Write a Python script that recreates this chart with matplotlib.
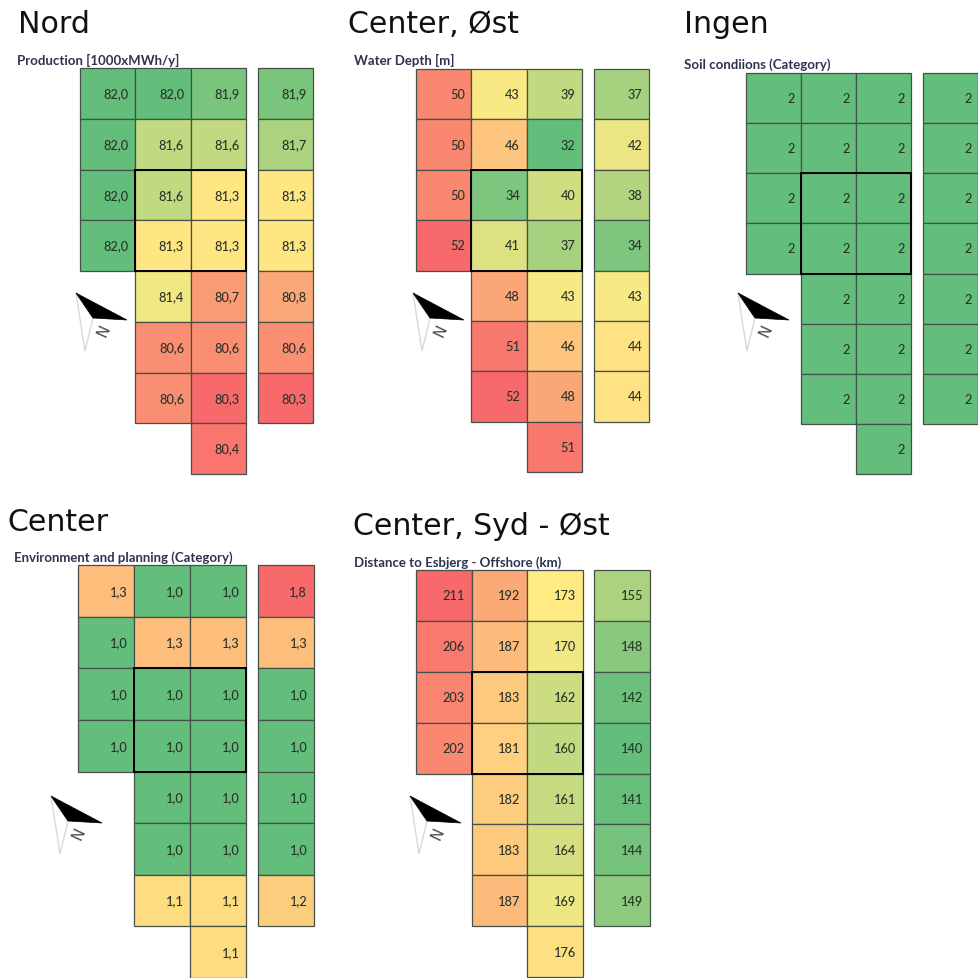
import numpy as np
import matplotlib
matplotlib.use("Agg")
import matplotlib.pyplot as plt
from matplotlib.colors import LinearSegmentedColormap, TwoSlopeNorm
from matplotlib.patches import Polygon, Rectangle

SIZE = 979
nan = np.nan

production = [[82.0, 82.0, 81.9, 81.9],
              [82.0, 81.6, 81.6, 81.7],
              [82.0, 81.6, 81.3, 81.3],
              [82.0, 81.3, 81.3, 81.3],
              [nan, 81.4, 80.7, 80.8],
              [nan, 80.6, 80.6, 80.6],
              [nan, 80.6, 80.3, 80.3],
              [nan, nan, 80.4, nan]]
water_depth = [[50, 43, 39, 37],
               [50, 46, 32, 42],
               [50, 34, 40, 38],
               [52, 41, 37, 34],
               [nan, 48, 43, 43],
               [nan, 51, 46, 44],
               [nan, 52, 48, 44],
               [nan, nan, 51, nan]]
soil = [[2, 2, 2, 2],
        [2, 2, 2, 2],
        [2, 2, 2, 2],
        [2, 2, 2, 2],
        [nan, 2, 2, 2],
        [nan, 2, 2, 2],
        [nan, 2, 2, 2],
        [nan, nan, 2, nan]]
environment = [[1.3, 1.0, 1.0, 1.8],
               [1.0, 1.3, 1.3, 1.3],
               [1.0, 1.0, 1.0, 1.0],
               [1.0, 1.0, 1.0, 1.0],
               [nan, 1.0, 1.0, 1.0],
               [nan, 1.0, 1.0, 1.0],
               [nan, 1.1, 1.1, 1.2],
               [nan, nan, 1.1, nan]]
distance = [[211, 192, 173, 155],
            [206, 187, 170, 148],
            [203, 183, 162, 142],
            [202, 181, 160, 140],
            [nan, 182, 161, 141],
            [nan, 183, 164, 144],
            [nan, 187, 169, 149],
            [nan, nan, 176, nan]]

# excel style 3 colour scale
good_to_bad = LinearSegmentedColormap.from_list("scale", ["#63BE7B", "#FFEB84", "#F8696B"])
bad_to_good = good_to_bad.reversed()

# scale = vmin, vcenter, vmax; box = left, top, right, bottom in pixels
panels = [
    dict(title="Nord", sub="Production [1000xMWh/y]", data=production, fmt="{:.1f}", cmap=bad_to_good,
         scale=(80.3, 81.34, 82.0), box=(80, 69, 313, 475), title_xy=(18, 33), sub_xy=(17, 60), tip=(76, 294)),
    dict(title="Center, Øst", sub="Water Depth [m]", data=water_depth, fmt="{:.0f}", cmap=good_to_bad,
         scale=(32, 43.5, 52), box=(416, 70, 649, 473), title_xy=(348, 33), sub_xy=(354, 60), tip=(413, 294)),
    dict(title="Ingen", sub="Soil condiions (Category)", data=soil, fmt="{:.0f}", cmap=good_to_bad,
         scale=(2, 2.5, 3), box=(746, 74, 978, 475), title_xy=(684, 33), sub_xy=(684, 65), tip=(738, 294)),
    dict(title="Center", sub="Environment and planning (Category)", data=environment, fmt="{:.1f}", cmap=good_to_bad,
         scale=(1.0, 1.02, 1.8), box=(78, 566, 314, 979), title_xy=(7, 531), sub_xy=(14, 558), tip=(51, 797)),
    dict(title="Center, Syd - Øst", sub="Distance to Esbjerg - Offshore (km)", data=distance, fmt="{:.0f}", cmap=good_to_bad,
         scale=(140, 173, 211), box=(416, 571, 650, 978), title_xy=(353, 535), sub_xy=(354, 563), tip=(410, 797)),
]

fig = plt.figure(figsize=(SIZE / 100, SIZE / 100), dpi=100, facecolor="white")

# overlay in pixel coords for titles and north arrows
overlay = fig.add_axes([0, 0, 1, 1], zorder=5)
overlay.set_xlim(0, SIZE)
overlay.set_ylim(SIZE, 0)
overlay.axis("off")

gap = 0.21
col_left = [0, 1, 2, 3 + gap]

for p in panels:
    left, top, right, bottom = p["box"]
    ax = fig.add_axes([left / SIZE, 1 - bottom / SIZE, (right - left) / SIZE, (bottom - top) / SIZE])
    vals = np.array(p["data"], dtype=float)
    vmin, vcenter, vmax = p["scale"]
    norm = TwoSlopeNorm(vcenter, vmin, vmax)
    for c in range(vals.shape[1]):
        rows = np.where(~np.isnan(vals[:, c]))[0]
        ax.bar(col_left[c], 1, bottom=rows, width=1, align="edge", color=p["cmap"](norm(vals[rows, c])),
               edgecolor="#46504a", linewidth=0.9, clip_on=False)
        for r in rows:
            ax.text(col_left[c] + 1 - 0.12, r + 0.5, p["fmt"].format(vals[r, c]).replace(".", ","),
                    ha="right", va="center", fontsize=9.2, family="Lato", fontweight="medium", color="#2a342a")
    ax.add_patch(Rectangle((1, 2), 2, 2, fill=False, edgecolor="black", linewidth=1.4, zorder=3))
    ax.set_xlim(0, 4 + gap)
    ax.set_ylim(8, 0)
    ax.axis("off")

    overlay.text(*p["title_xy"], p["title"], fontsize=21.6, family="DejaVu Sans", color="#111111", va="baseline")
    overlay.text(*p["sub_xy"], p["sub"], fontsize=9.5, family="Lato", fontweight="bold", color="#2e3350", va="center")

    tx, ty = p["tip"]
    overlay.add_patch(Polygon([(tx, ty), (tx + 9, ty + 58), (tx + 17, ty + 25)], closed=True,
                              facecolor="white", edgecolor="#d8d8d8", linewidth=1.0))
    overlay.add_patch(Polygon([(tx, ty), (tx + 51, ty + 27), (tx + 17, ty + 25)], closed=True,
                              facecolor="black", edgecolor="black", linewidth=0.5))
    overlay.text(tx + 28, ty + 37, "N", fontsize=11, family="DejaVu Sans", color="#4a4a4a",
                 rotation=65, ha="center", va="center")

fig.savefig("out.png", dpi=100)
